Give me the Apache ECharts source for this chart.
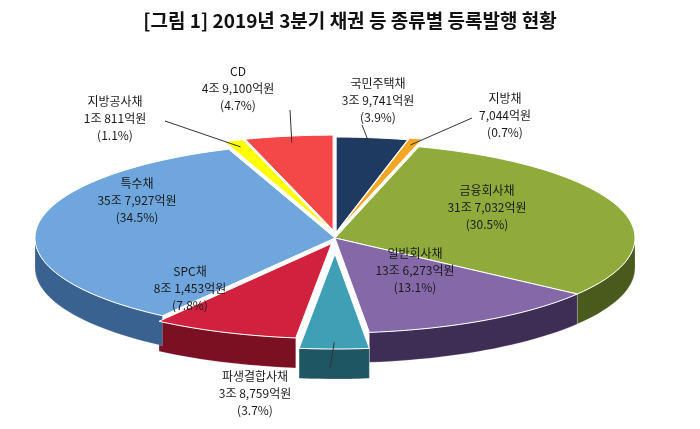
<!DOCTYPE html>
<html>
<head>
<meta charset="utf-8">
<script src="https://cdn.jsdelivr.net/npm/echarts@6/dist/echarts.min.js"></script>
<style>html,body{margin:0;padding:0;background:#fff}#main{width:700px;height:429px}</style>
</head>
<body>
<div id="main"></div>
<script>
// 2019년 3분기 채권 종류별 등록발행 (억원)
var names = ['국민주택채', '지방채', '금융회사채', '일반회사채', '파생결합사채', 'SPC채', '특수채', '지방공사채', 'CD'];
var amounts = ['3조 9,741억원', '7,044억원', '31조 7,032억원', '13조 6,273억원', '3조 8,759억원', '8조 1,453억원', '35조 7,927억원', '1조 811억원', '4조 9,100억원'];
var values = [39741, 7044, 317032, 136273, 38759, 81453, 357927, 10811, 49100];
var shares = ['3.9%', '0.7%', '30.5%', '13.1%', '3.7%', '7.8%', '34.5%', '1.1%', '4.7%'];

var colors = ['#1f3a60', '#f5a623', '#8eab3c', '#8568a8', '#3f9fb5', '#d0213f', '#6fa6dd', '#ffff00', '#f44848'];
var sideColors = ['#10203a', '#a86c10', '#4a5a1c', '#3e2d55', '#1f5663', '#7a1022', '#3a6290', '#a0a000', '#9a2020'];
var explode = [6, 8, 0, 0, 16, 6, 0, 8, 8];
// 레이블 위치 (텍스트 중심, 지시선 시작)
var labelAt = [[378, 100, 362, 125], [505, 115, 472, 118], [487, 207], [415, 270], [255, 393, 330, 368],
               [190, 288], [137, 200], [115, 118, 165, 121], [238, 88, 290, 110]];

var cx = 335, cy = 238, rx = 300, ry = 95, depth = 30;
var total = values.reduce(function(a, b){ return a + b; }, 0);

function pt(a, r, ox, oy){
    var t = a * Math.PI / 180;
    return [cx + ox + rx * r * Math.sin(t), cy + oy - ry * r * Math.cos(t)];
}
function arc(a0, a1, ox, oy, yoff){
    var pts = [], n = Math.max(2, Math.ceil(Math.abs(a1 - a0) / 2));
    for (var i = 0; i <= n; i++) {
        var p = pt(a0 + (a1 - a0) * i / n, 1, ox, oy);
        pts.push([p[0], p[1] + yoff]);
    }
    return pts;
}

function renderItem(params, api){
    var idx = params.dataIndex;
    var before = 0;
    for (var i = 0; i < idx; i++) before += values[i];
    var a0 = before / total * 360, a1 = (before + api.value(0)) / total * 360;
    var mid = (a0 + a1) / 2, mt = mid * Math.PI / 180;
    var ox = explode[idx] * Math.sin(mt) * 1.6, oy = -explode[idx] * Math.cos(mt);
    var c = colors[idx];
    var kids = [];
    var s = Math.max(a0, 90), e = Math.min(a1, 270);
    if (e > s) {
        var side = arc(s, e, ox, oy, 0).concat(arc(e, s, ox, oy, depth));
        kids.push({type: 'polygon', z2: 1, shape: {points: side},
            style: {fill: sideColors[idx], stroke: 'rgba(255,255,255,0.4)', lineWidth: 0.5}});
    }
    var top = [[cx + ox, cy + oy]].concat(arc(a0, a1, ox, oy, 0));
    kids.push({type: 'polygon', z2: 10, shape: {points: top},
        style: {fill: c, stroke: '#fff', lineWidth: 1}});
    var la = labelAt[idx];
    kids.push({type: 'text', z2: 20, x: la[0], y: la[1], style: {
        text: names[idx] + '\n' + amounts[idx] + '\n(' + shares[idx] + ')',
        font: '12px "Noto Sans CJK KR", sans-serif', fill: '#1a1a1a', align: 'center',
        verticalAlign: 'middle', lineHeight: 17}});
    if (la.length > 2) {
        var edge = pt(mid, 0.93, ox, oy);
        kids.push({type: 'line', z2: 20, shape: {x1: la[2], y1: la[3], x2: edge[0], y2: edge[1]},
            style: {stroke: '#333', lineWidth: 1}});
    }
    return {type: 'group', children: kids};
}

var myChart = echarts.init(document.getElementById('main'));
myChart.setOption({
    animation: false,
    title: {
        text: '[그림 1] 2019년 3분기 채권 등 종류별 등록발행 현황',
        left: 'center', top: 6,
        textStyle: {fontSize: 19, fontWeight: 'bold', color: '#111', fontFamily: '"Noto Sans CJK KR", sans-serif'}
    },
    series: [{
        type: 'custom',
        coordinateSystem: 'none',
        renderItem: renderItem,
        data: values.map(function(v){ return [v]; })
    }]
});
</script>
</body>
</html>
